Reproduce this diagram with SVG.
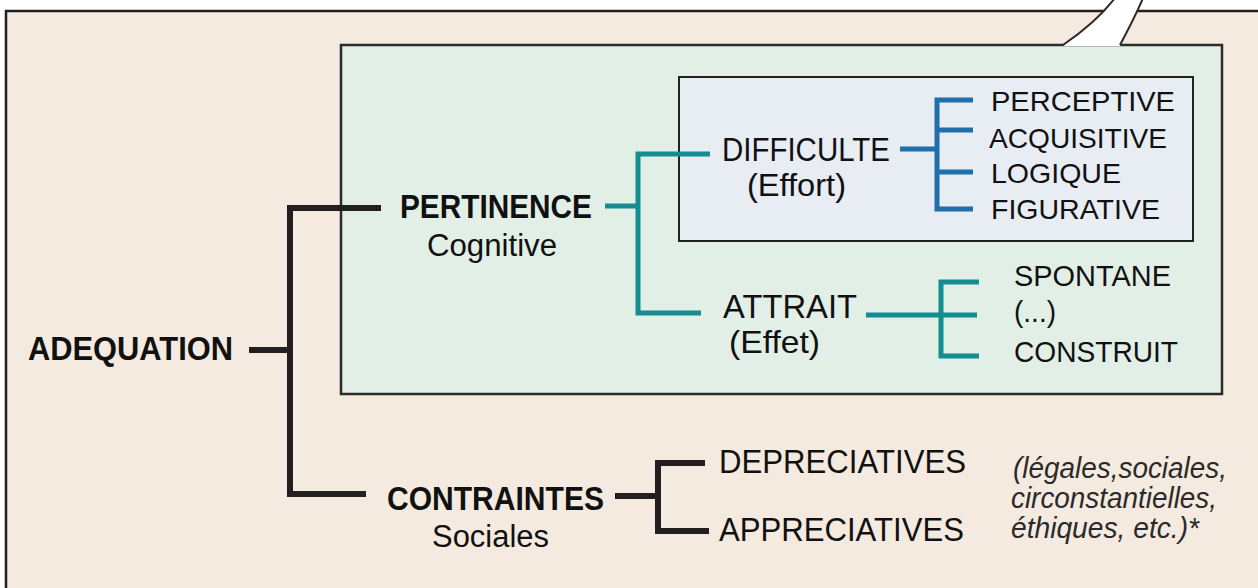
<svg xmlns="http://www.w3.org/2000/svg" width="1258" height="588" viewBox="0 0 1258 588">
<style>
text{font-family:"Liberation Sans",Arial,sans-serif;fill:#111}
.b{font-weight:bold}
.it{font-style:italic;fill:#2a2a2a}
.k{stroke:#231f20;stroke-width:6;fill:none}
.t{stroke:#138d8f;stroke-width:5;fill:none}
.u{stroke:#1f6fad;stroke-width:5;fill:none}
</style>
<rect width="1258" height="588" fill="#fff"/>
<g id="frame">
<rect x="6" y="11" width="1270" height="600" fill="#f5eadf" stroke="#231f20" stroke-width="2.5"/>
</g>
<g id="pertinence-box">
<rect x="341" y="45" width="881" height="349" fill="#e2efe7" stroke="#2b2b2b" stroke-width="2.5"/>
</g>
<g id="bubble-tail">
<path d="M1063,46 C1085,30 1102,15 1115,-2 L1143,-2 C1136,15 1128,30 1120,46 Z" fill="#fff"/>
<path d="M1063,45 C1085,30 1102,15 1115,-2 M1143,-2 C1136,15 1128,30 1120,45" fill="none" stroke="#2b2b2b" stroke-width="2"/>
</g>
<g id="difficulte-box">
<rect x="679" y="77" width="514" height="164" fill="#e7edf3" stroke="#222" stroke-width="2"/>
</g>
<g id="connectors">
<path class="k" d="M249,350 H290 M381,208 H290 V494 H366"/>
<path class="k" d="M615,496 H658 M705,463 H658 V531 H709"/>
<path class="t" d="M605,206 H638 M710,154 H638 V313 H701"/>
<path class="t" d="M866,315 H977 M979,282 H941 V356 H979"/>
<path class="u" d="M900,149 H937 M973,100 H937 V209 H973 M937,130 H973 M937,172 H973"/>
</g>
<g id="adequation"><text class="b" x="28" y="360" font-size="34" textLength="205" lengthAdjust="spacingAndGlyphs">ADEQUATION</text></g>
<g id="pertinence">
<text class="b" x="400" y="218" font-size="33" textLength="192" lengthAdjust="spacingAndGlyphs">PERTINENCE</text>
<text x="427" y="256" font-size="31" textLength="130" lengthAdjust="spacingAndGlyphs">Cognitive</text>
</g>
<g id="contraintes">
<text class="b" x="387" y="510" font-size="33" textLength="217" lengthAdjust="spacingAndGlyphs">CONTRAINTES</text>
<text x="432" y="547" font-size="31" textLength="117" lengthAdjust="spacingAndGlyphs">Sociales</text>
</g>
<g id="difficulte">
<text x="722" y="161" font-size="34" textLength="168" lengthAdjust="spacingAndGlyphs">DIFFICULTE</text>
<text x="747" y="196" font-size="32" textLength="99" lengthAdjust="spacingAndGlyphs">(Effort)</text>
</g>
<g id="perceptive"><text x="991" y="111" font-size="28" textLength="184" lengthAdjust="spacingAndGlyphs">PERCEPTIVE</text></g>
<g id="acquisitive"><text x="989" y="148" font-size="28" textLength="178" lengthAdjust="spacingAndGlyphs">ACQUISITIVE</text></g>
<g id="logique"><text x="991" y="183" font-size="28" textLength="130" lengthAdjust="spacingAndGlyphs">LOGIQUE</text></g>
<g id="figurative"><text x="991" y="219" font-size="28" textLength="169" lengthAdjust="spacingAndGlyphs">FIGURATIVE</text></g>
<g id="attrait">
<text x="723" y="318" font-size="34" textLength="134" lengthAdjust="spacingAndGlyphs">ATTRAIT</text>
<text x="729" y="353" font-size="32" textLength="91" lengthAdjust="spacingAndGlyphs">(Effet)</text>
</g>
<g id="spontane"><text x="1014" y="286" font-size="30" textLength="157" lengthAdjust="spacingAndGlyphs">SPONTANE</text></g>
<g id="etc"><text x="1014" y="322" font-size="30" textLength="42" lengthAdjust="spacingAndGlyphs">(...)</text></g>
<g id="construit"><text x="1014" y="362" font-size="30" textLength="164" lengthAdjust="spacingAndGlyphs">CONSTRUIT</text></g>
<g id="depreciatives"><text x="719" y="473" font-size="34" textLength="247" lengthAdjust="spacingAndGlyphs">DEPRECIATIVES</text></g>
<g id="appreciatives"><text x="719" y="541" font-size="34" textLength="245" lengthAdjust="spacingAndGlyphs">APPRECIATIVES</text></g>
<g id="note">
<text class="it" x="1013" y="478" font-size="29" textLength="214" lengthAdjust="spacingAndGlyphs">(légales,sociales,</text>
<text class="it" x="1011" y="508" font-size="29" textLength="206" lengthAdjust="spacingAndGlyphs">circonstantielles,</text>
<text class="it" x="1011" y="538" font-size="29" textLength="188" lengthAdjust="spacingAndGlyphs">éthiques, etc.)*</text>
</g>
</svg>
